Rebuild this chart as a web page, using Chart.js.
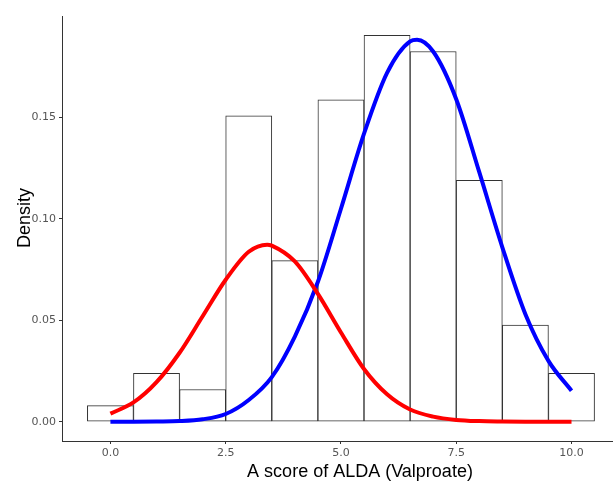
<!DOCTYPE html>
<html>
<head>
<meta charset="utf-8">
<script src="https://cdn.jsdelivr.net/npm/chart.js@4/dist/chart.umd.min.js"></script>
<style>
  html, body { margin: 0; padding: 0; background: #fff; }
  #wrap { width: 613px; height: 484px; }
</style>
</head>
<body>
<div id="wrap"><canvas id="chart"></canvas></div>
<script>
// histogram bins (centre, density)
const binCentres = [0, 1, 2, 3, 4, 5, 6, 7, 8, 9, 10];
const binDensity = [0.0079, 0.0238, 0.0159, 0.1508, 0.0794, 0.1587, 0.1905, 0.1825, 0.119, 0.0476, 0.0238];

// red curve
const redX = [0, 0.5, 1, 1.5, 2, 2.5, 3, 3.4, 3.5, 4, 4.5, 5, 5.5, 6, 6.5, 7, 7.5, 8, 8.5, 9, 9.5, 10];
const redY = [0.004, 0.0095, 0.0195, 0.034, 0.052, 0.070, 0.0838, 0.0873, 0.0868, 0.079, 0.063, 0.044, 0.026, 0.0135, 0.006, 0.0025, 0.0009, 0.0003, 0.0001, 0, 0, 0];

// blue curve
const blueX = [0, 0.5, 1, 1.5, 2, 2.5, 3, 3.5, 4, 4.5, 5, 5.5, 6, 6.5, 6.65, 7, 7.5, 8, 8.5, 9, 9.5, 10];
const blueY = [0, 0, 0.0001, 0.0003, 0.0012, 0.0038, 0.0107, 0.022, 0.042, 0.069, 0.105, 0.142, 0.172, 0.1875, 0.1883, 0.1825, 0.159, 0.123, 0.086, 0.053, 0.030, 0.0153];

const xTicks = [0, 2.5, 5, 7.5, 10];
const yTicks = [0, 0.05, 0.1, 0.15];

const xTitle = 'A score of ALDA (Valproate)';
const yTitle = 'Density';

const pts = (xs, ys) => xs.map((x, i) => ({ x: x, y: ys[i] }));

const titlePlugin = {
  id: 'titles',
  afterDraw(chart) {
    const c = chart.ctx;
    c.save();
    c.fillStyle = '#000';
    c.font = '18px "Liberation Sans", Arial, sans-serif';
    c.textAlign = 'center';
    c.textBaseline = 'middle';
    c.fillText(xTitle, 360, 472);
    c.translate(25, 218);
    c.rotate(-Math.PI / 2);
    c.fillText(yTitle, 0, 0);
    c.restore();
  }
};

const tickFont = { family: '"DejaVu Sans", sans-serif', size: 11 };

new Chart(document.getElementById('chart').getContext('2d'), {
  data: {
    datasets: [
      {
        type: 'line',
        data: pts(redX, redY),
        borderColor: '#ff0000',
        borderWidth: 4,
        pointRadius: 0,
        cubicInterpolationMode: 'monotone',
        order: 0
      },
      {
        type: 'line',
        data: pts(blueX, blueY),
        borderColor: '#0000ff',
        borderWidth: 4,
        pointRadius: 0,
        cubicInterpolationMode: 'monotone',
        order: 0
      },
      {
        type: 'bar',
        data: pts(binCentres, binDensity),
        backgroundColor: '#ffffff',
        borderColor: '#333333',
        borderWidth: 1,
        borderSkipped: false,
        barPercentage: 1,
        categoryPercentage: 1,
        order: 1
      }
    ]
  },
  options: {
    responsive: true,
    maintainAspectRatio: false,
    animation: false,
    layout: { padding: { top: 16, right: 0, left: 0, bottom: 0 } },
    plugins: {
      legend: { display: false },
      tooltip: { enabled: false }
    },
    scales: {
      x: {
        type: 'linear',
        min: -1.05,
        max: 10.9,
        offset: false,
        afterBuildTicks: s => { s.ticks = xTicks.map(v => ({ value: v })); },
        afterFit: s => { s.height = 43; },
        ticks: {
          color: '#555',
          font: tickFont,
          padding: 3,
          maxRotation: 0,
          callback: v => v.toFixed(1)
        },
        grid: { drawOnChartArea: false, offset: false, tickLength: 3, color: '#333' },
        border: { display: true, color: '#333', width: 1 }
      },
      y: {
        type: 'linear',
        min: -0.0095,
        max: 0.2,
        afterBuildTicks: s => { s.ticks = yTicks.map(v => ({ value: v })); },
        afterFit: s => { s.width = 62; },
        ticks: {
          color: '#555',
          font: tickFont,
          padding: 3,
          callback: v => v.toFixed(2)
        },
        grid: { drawOnChartArea: false, tickLength: 3, color: '#333' },
        border: { display: true, color: '#333', width: 1 }
      }
    }
  },
  plugins: [titlePlugin]
});
</script>
</body>
</html>
